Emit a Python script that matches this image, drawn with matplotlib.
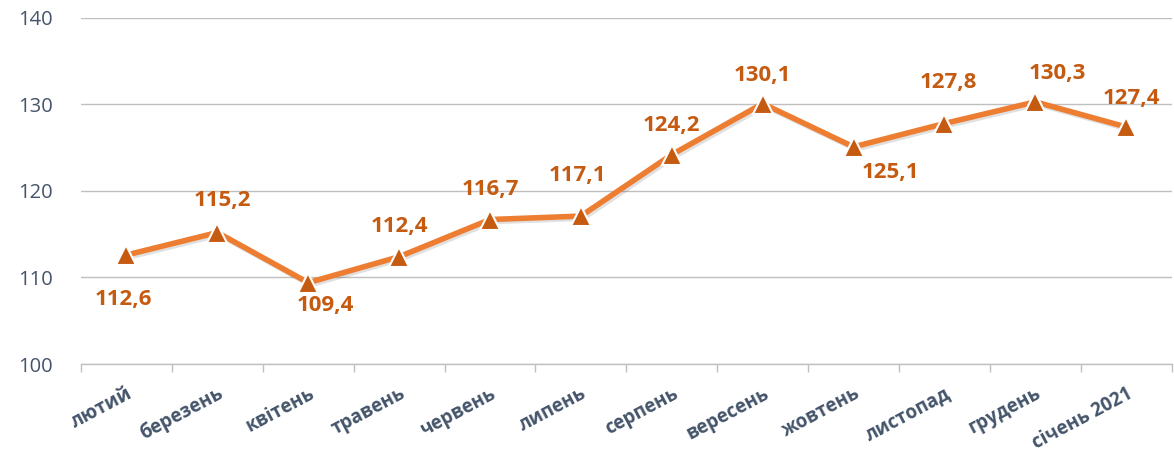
import matplotlib.pyplot as plt
import matplotlib.patheffects as pe

# Дані
months = ['лютий', 'березень', 'квітень', 'травень', 'червень', 'липень',
          'серпень', 'вересень', 'жовтень', 'листопад', 'грудень', 'січень 2021']
values = [112.6, 115.2, 109.4, 112.4, 116.7, 117.1, 124.2, 130.1, 125.1, 127.8, 130.3, 127.4]

# зсуви підписів (пікселі: вправо, вгору)
label_shift = [(-3, -44), (5, 32), (17, -23), (0, 30), (0, 30), (-3, 41),
               (0, 29), (0, 28), (37, -26), (4, 41), (22, 28), (5, 28)]

plt.rcParams['font.family'] = ['Open Sans', 'DejaVu Sans']

fig = plt.figure(figsize=(11.74, 4.61), dpi=100)
ax = fig.add_axes([0.069, 0.2104, 0.929, 0.7506])

x = list(range(len(months)))
ax.plot(x, values, color='#ED7D31', linewidth=4, zorder=3,
        path_effects=[pe.SimpleLineShadow(offset=(1.5, -1.5), alpha=0.12), pe.Normal()])
ax.plot(x, values, linestyle='none', marker='^', markersize=15,
        markerfacecolor='#C55A11', markeredgecolor='white', markeredgewidth=1.5, zorder=4)

for i, v in enumerate(values):
    txt = f'{v:.1f}'.replace('.', ',')
    dx, dy = label_shift[i]
    ax.annotate(txt, (i, v), xytext=(dx * 0.72, dy * 0.72), textcoords='offset points',
                ha='center', va='center', fontsize=16, fontweight='bold', color='#C55A11')

ax.set_xlim(-0.5, len(months) - 0.5)
ax.set_ylim(100, 140)
ax.set_yticks([100, 110, 120, 130, 140])
ax.yaxis.grid(True, color='#BFBFBF', linewidth=1)
ax.set_axisbelow(True)

for s in ['top', 'right', 'left']:
    ax.spines[s].set_visible(False)
ax.spines['bottom'].set_color('#BFBFBF')
ax.spines['bottom'].set_linewidth(1)

# поділки між категоріями
ax.set_xticks([i - 0.5 for i in range(len(months) + 1)], minor=False)
ax.set_xticklabels([])
ax.tick_params(axis='x', which='major', length=6, color='#BFBFBF', width=1)
ax.set_xticks(x, minor=True)
ax.set_xticklabels(months, minor=True, rotation=28, ha='right', rotation_mode='anchor',
                   fontsize=13.5, fontweight='bold', color='#44546A')
ax.tick_params(axis='x', which='minor', length=0, pad=14)
ax.tick_params(axis='y', length=0, pad=20, labelsize=14.5, labelcolor='#44546A')

fig.savefig('out.png', dpi=100)
